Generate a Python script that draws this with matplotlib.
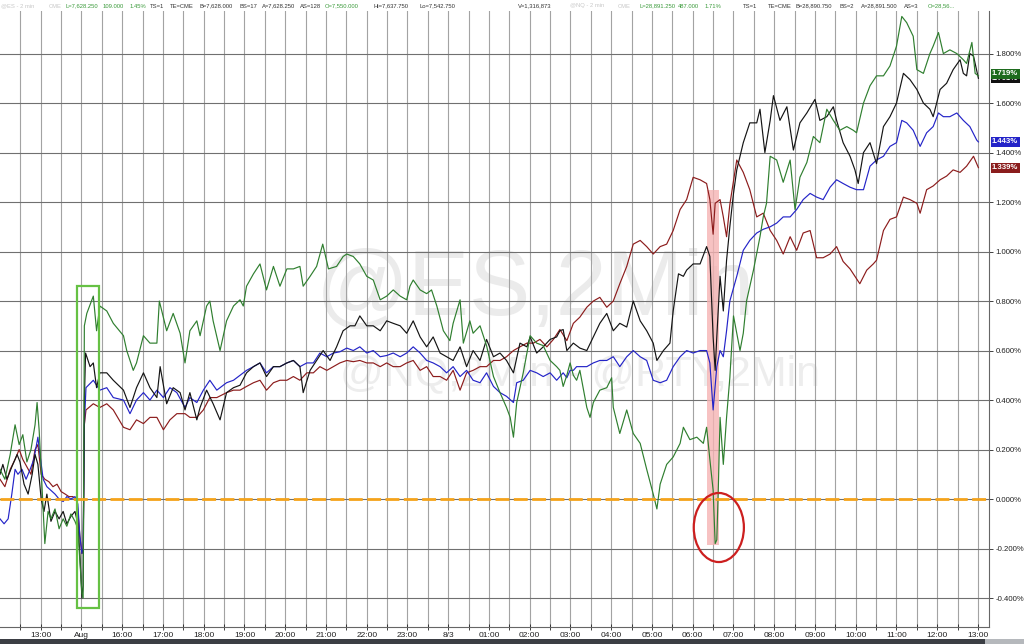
"""
Intraday futures percent-change chart (2-min bars) with annotation marks.
"""

import matplotlib.pyplot as plt
from matplotlib.patches import Rectangle, Ellipse
from matplotlib.transforms import blended_transform_factory

plt.rcParams['font.family'] = ['Liberation Sans', 'DejaVu Sans']

# x axis: hours from the chart start, one label per hour slot
HOUR_LABELS = ["13:00", "Aug", "16:00", "17:00", "18:00", "19:00", "20:00", "21:00",
               "22:00", "23:00", "8/3", "01:00", "02:00", "03:00", "04:00", "05:00",
               "06:00", "07:00", "08:00", "09:00", "10:00", "11:00", "12:00", "13:00"]
HOUR_POS = list(range(1, 25))
Y_TICKS = [-0.4, -0.2, 0.0, 0.2, 0.4, 0.6, 0.8, 1.0, 1.2, 1.4, 1.6, 1.8]

# (hour, percent change)
GREEN_SERIES = [
    (0.00, 0.12), (0.12, 0.08), (0.25, 0.18), (0.37, 0.30), (0.47, 0.22), (0.56, 0.26),
    (0.66, 0.15), (0.76, 0.20), (0.86, 0.30), (0.91, 0.39), (0.96, 0.28), (1.01, 0.12),
    (1.10, -0.18), (1.18, -0.05), (1.25, -0.08), (1.35, -0.04), (1.45, -0.12), (1.55, -0.08),
    (1.64, -0.11), (1.74, -0.06), (1.84, -0.09), (1.91, -0.12), (1.96, -0.25), (2.01, -0.38),
    (2.04, -0.40), (2.07, 0.70), (2.13, 0.75), (2.29, 0.82), (2.37, 0.68), (2.45, 0.78),
    (2.62, 0.76), (2.78, 0.71), (3.03, 0.66), (3.11, 0.60), (3.27, 0.52), (3.35, 0.55),
    (3.52, 0.66), (3.68, 0.63), (3.85, 0.63), (3.91, 0.80), (4.09, 0.68), (4.25, 0.75),
    (4.42, 0.67), (4.54, 0.55), (4.66, 0.68), (4.83, 0.72), (4.91, 0.66), (5.07, 0.78),
    (5.15, 0.80), (5.23, 0.72), (5.40, 0.60), (5.56, 0.72), (5.73, 0.78), (5.89, 0.805),
    (5.97, 0.78), (6.05, 0.86), (6.22, 0.91), (6.38, 0.95), (6.54, 0.845), (6.71, 0.94),
    (6.87, 0.86), (7.04, 0.93), (7.20, 0.93), (7.36, 0.94), (7.44, 0.86), (7.61, 0.90),
    (7.77, 0.94), (7.92, 1.03), (8.06, 0.93), (8.26, 0.94), (8.42, 0.98), (8.51, 0.99),
    (8.67, 0.98), (8.83, 0.95), (9.00, 0.90), (9.16, 0.885), (9.33, 0.805), (9.49, 0.82),
    (9.65, 0.845), (9.82, 0.82), (9.98, 0.805), (10.06, 0.86), (10.14, 0.885), (10.31, 0.845),
    (10.47, 0.83), (10.59, 0.845), (10.72, 0.78), (10.88, 0.68), (11.04, 0.64), (11.12, 0.71),
    (11.29, 0.805), (11.37, 0.63), (11.53, 0.72), (11.61, 0.67), (11.78, 0.70), (11.94, 0.62),
    (12.11, 0.495), (12.27, 0.43), (12.43, 0.37), (12.52, 0.33), (12.60, 0.25), (12.68, 0.39),
    (12.84, 0.51), (13.01, 0.66), (13.17, 0.63), (13.33, 0.62), (13.50, 0.56), (13.66, 0.535),
    (13.74, 0.52), (13.82, 0.455), (13.91, 0.50), (13.99, 0.55), (14.07, 0.50), (14.15, 0.48),
    (14.23, 0.52), (14.40, 0.37), (14.48, 0.33), (14.56, 0.39), (14.72, 0.44), (14.89, 0.45),
    (15.01, 0.49), (15.05, 0.37), (15.21, 0.265), (15.38, 0.36), (15.54, 0.265), (15.71, 0.225),
    (15.87, 0.12), (16.03, 0.02), (16.12, -0.04), (16.20, 0.06), (16.36, 0.14), (16.52, 0.17),
    (16.69, 0.225), (16.77, 0.29), (16.93, 0.24), (17.10, 0.25), (17.26, 0.225), (17.34, 0.29),
    (17.42, 0.16), (17.50, 0.036), (17.55, -0.18), (17.59, -0.165), (17.63, 0.06), (17.67, 0.33),
    (17.75, 0.14), (17.83, 0.33), (17.91, 0.49), (18.00, 0.74), (18.16, 0.60), (18.24, 0.67),
    (18.32, 0.80), (18.49, 0.925), (18.65, 1.06), (18.73, 1.14), (18.81, 1.195), (18.90, 1.385),
    (19.06, 1.37), (19.22, 1.28), (19.39, 1.37), (19.51, 1.17), (19.63, 1.30), (19.80, 1.36),
    (19.96, 1.465), (20.12, 1.44), (20.29, 1.575), (20.45, 1.53), (20.61, 1.49), (20.78, 1.505),
    (20.94, 1.49), (21.02, 1.48), (21.19, 1.60), (21.35, 1.67), (21.51, 1.71), (21.68, 1.71),
    (21.84, 1.75), (22.00, 1.83), (22.13, 1.95), (22.25, 1.925), (22.41, 1.87), (22.50, 1.735),
    (22.66, 1.72), (22.82, 1.80), (22.90, 1.83), (23.03, 1.885), (23.15, 1.80), (23.31, 1.815),
    (23.48, 1.80), (23.64, 1.775), (23.72, 1.76), (23.85, 1.845), (23.93, 1.72), (24.01, 1.71),
]

BLACK_SERIES = [
    (0.00, 0.10), (0.07, 0.14), (0.17, 0.08), (0.29, 0.13), (0.42, 0.18), (0.49, 0.15),
    (0.59, 0.06), (0.69, 0.02), (0.79, 0.10), (0.86, 0.18), (0.93, 0.14), (1.01, 0.00),
    (1.08, -0.05), (1.15, 0.02), (1.25, -0.09), (1.35, -0.05), (1.45, -0.08), (1.55, -0.05),
    (1.64, -0.10), (1.74, -0.07), (1.84, -0.05), (1.91, -0.10), (1.96, -0.22), (2.01, -0.40),
    (2.04, -0.35), (2.07, 0.40), (2.10, 0.59), (2.21, 0.535), (2.29, 0.55), (2.37, 0.45),
    (2.45, 0.51), (2.62, 0.51), (2.78, 0.48), (3.03, 0.44), (3.19, 0.37), (3.35, 0.45),
    (3.52, 0.51), (3.68, 0.45), (3.85, 0.41), (3.93, 0.535), (4.09, 0.385), (4.25, 0.45),
    (4.42, 0.43), (4.54, 0.36), (4.66, 0.43), (4.83, 0.32), (4.91, 0.37), (5.07, 0.44),
    (5.23, 0.385), (5.40, 0.32), (5.56, 0.43), (5.73, 0.45), (5.89, 0.46), (6.05, 0.51),
    (6.22, 0.535), (6.38, 0.55), (6.54, 0.495), (6.71, 0.535), (6.87, 0.535), (7.04, 0.55),
    (7.20, 0.56), (7.36, 0.535), (7.44, 0.43), (7.61, 0.52), (7.77, 0.56), (7.93, 0.60),
    (8.10, 0.56), (8.26, 0.615), (8.42, 0.68), (8.59, 0.70), (8.71, 0.70), (8.83, 0.74),
    (9.00, 0.70), (9.16, 0.70), (9.33, 0.68), (9.49, 0.72), (9.65, 0.71), (9.82, 0.70),
    (9.98, 0.67), (10.14, 0.72), (10.31, 0.655), (10.47, 0.615), (10.63, 0.655), (10.80, 0.59),
    (10.96, 0.575), (11.12, 0.56), (11.29, 0.615), (11.45, 0.535), (11.61, 0.60), (11.78, 0.56),
    (11.94, 0.645), (12.11, 0.575), (12.27, 0.59), (12.43, 0.56), (12.60, 0.51), (12.76, 0.63),
    (12.93, 0.615), (13.01, 0.655), (13.17, 0.59), (13.33, 0.615), (13.50, 0.645), (13.66, 0.655),
    (13.74, 0.68), (13.82, 0.685), (13.91, 0.60), (13.99, 0.615), (14.07, 0.63), (14.23, 0.61),
    (14.40, 0.60), (14.56, 0.655), (14.72, 0.71), (14.89, 0.75), (15.05, 0.68), (15.21, 0.71),
    (15.38, 0.695), (15.54, 0.80), (15.71, 0.72), (15.87, 0.68), (16.03, 0.63), (16.12, 0.56),
    (16.28, 0.60), (16.44, 0.63), (16.52, 0.76), (16.65, 0.91), (16.77, 0.90), (16.85, 0.925),
    (17.01, 0.95), (17.18, 0.95), (17.34, 1.02), (17.42, 0.98), (17.50, 0.655), (17.55, 0.52),
    (17.59, 0.655), (17.67, 0.90), (17.75, 0.76), (17.83, 0.965), (17.91, 1.10), (18.00, 1.235),
    (18.08, 1.33), (18.24, 1.44), (18.40, 1.52), (18.57, 1.52), (18.65, 1.575), (18.77, 1.40),
    (18.90, 1.53), (18.98, 1.63), (19.14, 1.53), (19.31, 1.585), (19.47, 1.41), (19.63, 1.52),
    (19.80, 1.56), (20.00, 1.615), (20.12, 1.53), (20.29, 1.545), (20.45, 1.585), (20.53, 1.53),
    (20.69, 1.44), (20.86, 1.385), (20.98, 1.33), (21.06, 1.275), (21.19, 1.40), (21.35, 1.44),
    (21.51, 1.355), (21.68, 1.505), (21.84, 1.545), (22.00, 1.60), (22.17, 1.72), (22.33, 1.695),
    (22.50, 1.655), (22.66, 1.60), (22.82, 1.575), (22.90, 1.545), (23.07, 1.655), (23.23, 1.68),
    (23.39, 1.735), (23.56, 1.775), (23.64, 1.72), (23.72, 1.71), (23.80, 1.80), (23.89, 1.79),
    (24.01, 1.70),
]

BLUE_SERIES = [
    (0.00, -0.08), (0.10, -0.10), (0.20, -0.08), (0.29, 0.02), (0.37, 0.12), (0.44, 0.10),
    (0.54, 0.12), (0.64, 0.08), (0.74, 0.12), (0.83, 0.16), (0.93, 0.25), (0.98, 0.18),
    (1.06, 0.08), (1.15, 0.05), (1.25, 0.035), (1.35, 0.02), (1.45, 0.00), (1.55, -0.01),
    (1.64, 0.01), (1.74, 0.00), (1.84, 0.01), (1.91, -0.02), (1.96, -0.15), (2.01, -0.22),
    (2.04, -0.20), (2.07, 0.30), (2.11, 0.45), (2.29, 0.48), (2.45, 0.44), (2.62, 0.45),
    (2.78, 0.41), (3.03, 0.40), (3.19, 0.345), (3.35, 0.40), (3.52, 0.43), (3.68, 0.40),
    (3.85, 0.44), (4.01, 0.41), (4.17, 0.45), (4.34, 0.43), (4.54, 0.37), (4.66, 0.41),
    (4.83, 0.39), (4.99, 0.44), (5.15, 0.48), (5.32, 0.44), (5.56, 0.47), (5.73, 0.48),
    (5.89, 0.50), (6.05, 0.52), (6.22, 0.535), (6.38, 0.55), (6.54, 0.51), (6.71, 0.535),
    (6.87, 0.535), (7.04, 0.55), (7.20, 0.56), (7.36, 0.535), (7.53, 0.55), (7.69, 0.55),
    (7.85, 0.59), (8.02, 0.575), (8.18, 0.59), (8.34, 0.595), (8.51, 0.61), (8.67, 0.60),
    (8.83, 0.615), (9.00, 0.59), (9.16, 0.60), (9.33, 0.575), (9.49, 0.58), (9.65, 0.59),
    (9.82, 0.575), (9.98, 0.59), (10.14, 0.615), (10.31, 0.59), (10.47, 0.56), (10.63, 0.55),
    (10.80, 0.535), (10.96, 0.51), (11.12, 0.535), (11.29, 0.495), (11.45, 0.52), (11.61, 0.48),
    (11.78, 0.47), (11.94, 0.51), (12.11, 0.455), (12.27, 0.43), (12.43, 0.415), (12.60, 0.39),
    (12.68, 0.47), (12.84, 0.48), (13.01, 0.52), (13.17, 0.51), (13.33, 0.495), (13.50, 0.51),
    (13.66, 0.48), (13.82, 0.51), (13.91, 0.49), (13.99, 0.52), (14.07, 0.52), (14.15, 0.535),
    (14.23, 0.535), (14.40, 0.535), (14.56, 0.55), (14.72, 0.56), (14.89, 0.56), (15.05, 0.575),
    (15.21, 0.535), (15.38, 0.575), (15.54, 0.60), (15.71, 0.575), (15.87, 0.56), (16.03, 0.48),
    (16.20, 0.47), (16.36, 0.48), (16.52, 0.535), (16.69, 0.575), (16.85, 0.60), (17.01, 0.59),
    (17.18, 0.60), (17.34, 0.60), (17.42, 0.55), (17.50, 0.36), (17.59, 0.535), (17.67, 0.60),
    (17.75, 0.575), (17.83, 0.68), (17.91, 0.80), (18.08, 0.90), (18.24, 1.005), (18.40, 1.045),
    (18.57, 1.075), (18.73, 1.09), (18.90, 1.10), (19.06, 1.115), (19.22, 1.14), (19.39, 1.14),
    (19.55, 1.17), (19.71, 1.21), (19.88, 1.235), (20.04, 1.22), (20.20, 1.21), (20.37, 1.26),
    (20.53, 1.29), (20.69, 1.275), (20.86, 1.26), (21.02, 1.25), (21.19, 1.25), (21.35, 1.345),
    (21.51, 1.37), (21.68, 1.385), (21.84, 1.425), (22.00, 1.44), (22.13, 1.53), (22.25, 1.52),
    (22.41, 1.49), (22.58, 1.425), (22.74, 1.48), (22.90, 1.505), (23.03, 1.56), (23.15, 1.545),
    (23.31, 1.545), (23.48, 1.56), (23.64, 1.53), (23.80, 1.505), (23.97, 1.45), (24.01, 1.443),
]

RED_SERIES = [
    (0.00, 0.08), (0.12, 0.05), (0.25, 0.12), (0.37, 0.16), (0.47, 0.20), (0.56, 0.16),
    (0.66, 0.13), (0.76, 0.10), (0.86, 0.20), (0.93, 0.22), (1.01, 0.10), (1.10, 0.08),
    (1.20, 0.07), (1.30, 0.05), (1.40, 0.06), (1.50, 0.03), (1.60, 0.02), (1.69, 0.01),
    (1.79, 0.01), (1.89, -0.01), (1.96, -0.15), (2.01, -0.22), (2.04, -0.20), (2.07, 0.30),
    (2.11, 0.36), (2.29, 0.385), (2.45, 0.37), (2.62, 0.385), (2.78, 0.36), (3.03, 0.29),
    (3.19, 0.28), (3.35, 0.32), (3.52, 0.305), (3.68, 0.33), (3.85, 0.33), (4.01, 0.28),
    (4.17, 0.32), (4.34, 0.345), (4.54, 0.345), (4.66, 0.33), (4.83, 0.33), (4.99, 0.36),
    (5.15, 0.41), (5.32, 0.41), (5.56, 0.43), (5.73, 0.44), (5.89, 0.44), (6.05, 0.455),
    (6.22, 0.47), (6.38, 0.48), (6.54, 0.44), (6.71, 0.47), (6.87, 0.48), (7.04, 0.48),
    (7.20, 0.495), (7.36, 0.48), (7.53, 0.51), (7.69, 0.51), (7.85, 0.535), (8.02, 0.52),
    (8.18, 0.535), (8.34, 0.55), (8.51, 0.56), (8.67, 0.555), (8.83, 0.56), (9.00, 0.55),
    (9.16, 0.55), (9.33, 0.535), (9.49, 0.55), (9.65, 0.535), (9.82, 0.535), (9.98, 0.55),
    (10.14, 0.56), (10.31, 0.52), (10.47, 0.535), (10.63, 0.495), (10.80, 0.495), (10.96, 0.48),
    (11.12, 0.52), (11.29, 0.44), (11.45, 0.51), (11.61, 0.52), (11.78, 0.535), (11.94, 0.535),
    (12.11, 0.56), (12.27, 0.56), (12.43, 0.575), (12.60, 0.60), (12.76, 0.615), (12.93, 0.63),
    (13.09, 0.63), (13.25, 0.645), (13.42, 0.615), (13.58, 0.645), (13.74, 0.685), (13.91, 0.64),
    (14.07, 0.71), (14.23, 0.735), (14.40, 0.775), (14.56, 0.80), (14.72, 0.815), (14.89, 0.775),
    (15.05, 0.80), (15.21, 0.87), (15.38, 0.94), (15.54, 1.03), (15.71, 1.045), (15.87, 1.02),
    (16.03, 0.99), (16.20, 1.02), (16.36, 1.03), (16.52, 1.085), (16.69, 1.17), (16.85, 1.21),
    (17.01, 1.30), (17.18, 1.29), (17.34, 1.275), (17.42, 1.21), (17.50, 1.07), (17.55, 1.195),
    (17.67, 1.21), (17.75, 1.14), (17.83, 1.06), (17.91, 1.19), (18.08, 1.37), (18.24, 1.32),
    (18.40, 1.25), (18.57, 1.14), (18.73, 1.155), (18.90, 1.085), (19.06, 1.045), (19.22, 0.99),
    (19.39, 1.06), (19.55, 1.005), (19.71, 1.075), (19.88, 1.085), (20.04, 0.975), (20.20, 0.975),
    (20.37, 0.99), (20.53, 1.02), (20.69, 0.96), (20.86, 0.93), (20.94, 0.91), (21.10, 0.87),
    (21.27, 0.925), (21.43, 0.95), (21.51, 0.965), (21.68, 1.085), (21.84, 1.13), (22.00, 1.14),
    (22.17, 1.22), (22.33, 1.21), (22.50, 1.195), (22.58, 1.155), (22.74, 1.25), (22.90, 1.265),
    (23.07, 1.29), (23.23, 1.305), (23.39, 1.33), (23.56, 1.32), (23.72, 1.345), (23.89, 1.385),
    (24.01, 1.339),
]

# last-value tags on the right axis (black one sits under the green one)
LAST_TAGS = [("1.701%", 1.701, "#111111"), ("1.719%", 1.719, "#1e6b1e"),
             ("1.443%", 1.443, "#2323c8"), ("1.339%", 1.339, "#8a1c1c")]

# quote header: (x pixel, text, colour)
HEADER_ITEMS = [
    (1, "@ES - 2 min", "#c8c8c8"), (49, "CME", "#c8c8c8"),
    (66, "L=7,628.250", "#3a9a3a"), (103, "109.000", "#3a9a3a"), (130, "1.45%", "#3a9a3a"),
    (150, "TS=1", "#333333"), (170, "TE=CME", "#333333"), (200, "B=7,628.000", "#333333"),
    (240, "BS=17", "#333333"), (262, "A=7,628.250", "#333333"), (300, "AS=128", "#333333"),
    (325, "O=7,550.000", "#3a9a3a"), (373, "Hi=7,637.750", "#333333"),
    (420, "Lo=7,542.750", "#333333"), (518, "V=1,316,873", "#333333"),
    (570, "@NQ - 2 min", "#c8c8c8"), (618, "CME", "#c8c8c8"),
    (639, "L=28,891.250", "#3a9a3a"), (678, "487.000", "#3a9a3a"), (705, "1.71%", "#3a9a3a"),
    (743, "TS=1", "#333333"), (768, "TE=CME", "#333333"), (795, "B=28,890.750", "#333333"),
    (839, "BS=2", "#333333"), (861, "A=28,891.500", "#333333"), (904, "AS=3", "#333333"),
    (928, "O=28,56...", "#3a9a3a"),
]

W, H = 1024, 644


def plot_series(ax, series, color):
    t, v = zip(*series)
    ax.plot(t, v, color=color, linewidth=0.85, zorder=3)


def main():
    fig = plt.figure(figsize=(W / 100, H / 100), dpi=100)
    ax = fig.add_axes([0, 17 / H, 989 / W, 616 / H])
    ax.set_xlim(0, 24.27)
    ax.set_ylim(-0.517, 1.972)
    ax.set_axisbelow(True)

    # grid: half-hour verticals, 0.2% horizontals
    ax.set_xticks(HOUR_POS)
    ax.set_xticklabels(HOUR_LABELS)
    ax.set_xticks([h + 0.5 for h in range(0, 24)], minor=True)
    ax.set_yticks(Y_TICKS)
    ax.set_yticklabels([f"{y:.3f}%" for y in Y_TICKS])
    ax.grid(True, axis='x', which='both', color='#a3a3a3', linewidth=0.8)
    ax.grid(True, axis='y', color='#707070', linewidth=0.8)

    ax.yaxis.tick_right()
    ax.tick_params(axis='y', labelsize=5.6, colors='#222222', length=3, pad=1.5, width=0.6)
    ax.tick_params(axis='x', which='both', direction='inout', length=4, width=0.6,
                   labelsize=6, colors='#222222', pad=1.5)
    for side in ('top', 'left'):
        ax.spines[side].set_visible(False)
    for side in ('right', 'bottom'):
        ax.spines[side].set_color('#666666')
        ax.spines[side].set_linewidth(0.8)

    # faded symbol watermarks
    ax.text(0.541, 0.545, "@ES,2Min", transform=ax.transAxes, fontsize=66,
            color='#ebebeb', ha='center', va='center', zorder=0.4)
    ax.text(0.586, 0.41, "@NQ,2Min - @RTY,2Min", transform=ax.transAxes, fontsize=31,
            color='#ededed', ha='center', va='center', zorder=0.4)

    # highlighted flash-drop bar
    ax.add_patch(Rectangle((17.34, -0.186), 0.31, 1.434, facecolor='#f5b3b3',
                           edgecolor='none', alpha=0.8, zorder=1))

    plot_series(ax, RED_SERIES, '#8c1c1c')
    plot_series(ax, BLUE_SERIES, '#2424c8')
    plot_series(ax, BLACK_SERIES, '#141414')
    plot_series(ax, GREEN_SERIES, '#2f7f2f')

    ax.axhline(0, color='#f5a31a', linewidth=2.0, dashes=(5, 1.6), zorder=4)

    # hand-drawn highlight marks
    ax.add_patch(Rectangle((1.88, -0.44), 0.55, 1.30, fill=False, edgecolor='#66c144',
                           linewidth=1.6, zorder=5))
    ax.add_patch(Ellipse((17.64, -0.115), 1.23, 0.279, fill=False, edgecolor='#cc1f1f',
                         linewidth=1.6, zorder=5))

    # last value tags
    trans = blended_transform_factory(ax.transAxes, ax.transData)
    for text, value, color in LAST_TAGS:
        ax.text(1.003, value, text, transform=trans, fontsize=5.6, fontweight='bold',
                color='white', ha='left', va='center', clip_on=False, zorder=6,
                bbox=dict(boxstyle='square,pad=0.18', facecolor=color, edgecolor='none'))

    # quote header line
    for x_px, text, color in HEADER_ITEMS:
        fig.text(x_px / W, 1 - 6 / H, text, fontsize=4.2, color=color,
                 ha='left', va='center')

    # scroll bar strip at the bottom
    fig.patches.append(Rectangle((0, 0), 1, 5 / H, transform=fig.transFigure,
                                 facecolor='#3b3e44', edgecolor='none'))
    fig.patches.append(Rectangle((985 / W, 0), 39 / W, 5 / H, transform=fig.transFigure,
                                 facecolor='#b5b8bc', edgecolor='none'))

    fig.savefig("out.png", dpi=100, facecolor='white')
    plt.close(fig)


if __name__ == "__main__":
    main()
